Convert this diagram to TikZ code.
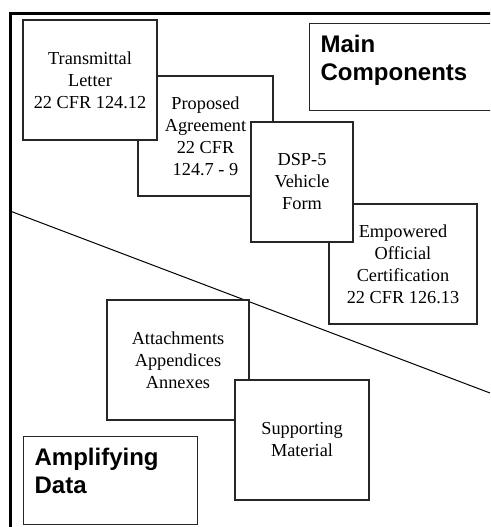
\documentclass[tikz,border=0pt]{standalone}
\usepackage{fontspec}
\setmainfont{Liberation Serif}
\newfontfamily\headfont{Liberation Sans}
\usepackage{tikz}
\usetikzlibrary{positioning,calc}

\begin{document}
\begin{tikzpicture}[
  x=1pt, y=-1pt,
  box/.style={draw=black!85, line width=1.2pt, fill=white, align=center,
              inner sep=0pt, minimum height=120pt,
              font=\fontsize{18.3}{22}\selectfont},
  tag/.style={draw=black!85, line width=1.2pt, fill=white, anchor=north west,
              inner xsep=11pt, inner ysep=0pt,
              font=\headfont\bfseries\fontsize{24}{27.5}\selectfont},
  frame/.style={line width=3pt},
  divider/.style={line width=1pt}
]
  \clip (0,0) rectangle (490,527);

  % Outer frame
  \draw[frame] (10,13.7) rectangle (520,560);

  % Divider between the two halves
  \coordinate (divwest) at (10,211);
  \coordinate (diveast) at (490,393);
  \draw[divider] (divwest) -- (diveast);

  % Main components
  \node[box, minimum width=135pt] (proposed) at (205.5,136)
    {Proposed\\Agreement\\22 CFR\\124.7 - 9};
  \node[box, minimum width=134pt] (transmittal) at (90,80)
    {Transmittal\\Letter\\22 CFR 124.12};
  \node[box, minimum width=148pt] (empowered) at (403,264)
    {Empowered\\Official\\Certification\\22 CFR 126.13};
  \node[box, minimum width=102pt] (dsp) at (302,182)
    {DSP-5\\Vehicle\\Form};

  % Amplifying data
  \node[box, minimum width=142pt] (attach) at (178,360)
    {Attachments\\Appendices\\Annexes};
  \node[box, minimum width=134pt] (support) at (302,440)
    {Supporting\\Material};

  % Headings
  \node[tag] (amplifying) at (23,436)
    {\parbox[c][88pt][t]{152pt}{\vspace*{12pt}Amplifying\\Data}};
  \node[tag] (main) at (309,23)
    {\parbox[c][87pt][t]{175pt}{\vspace*{11.7pt}Main\\Components}};
\end{tikzpicture}
\end{document}
